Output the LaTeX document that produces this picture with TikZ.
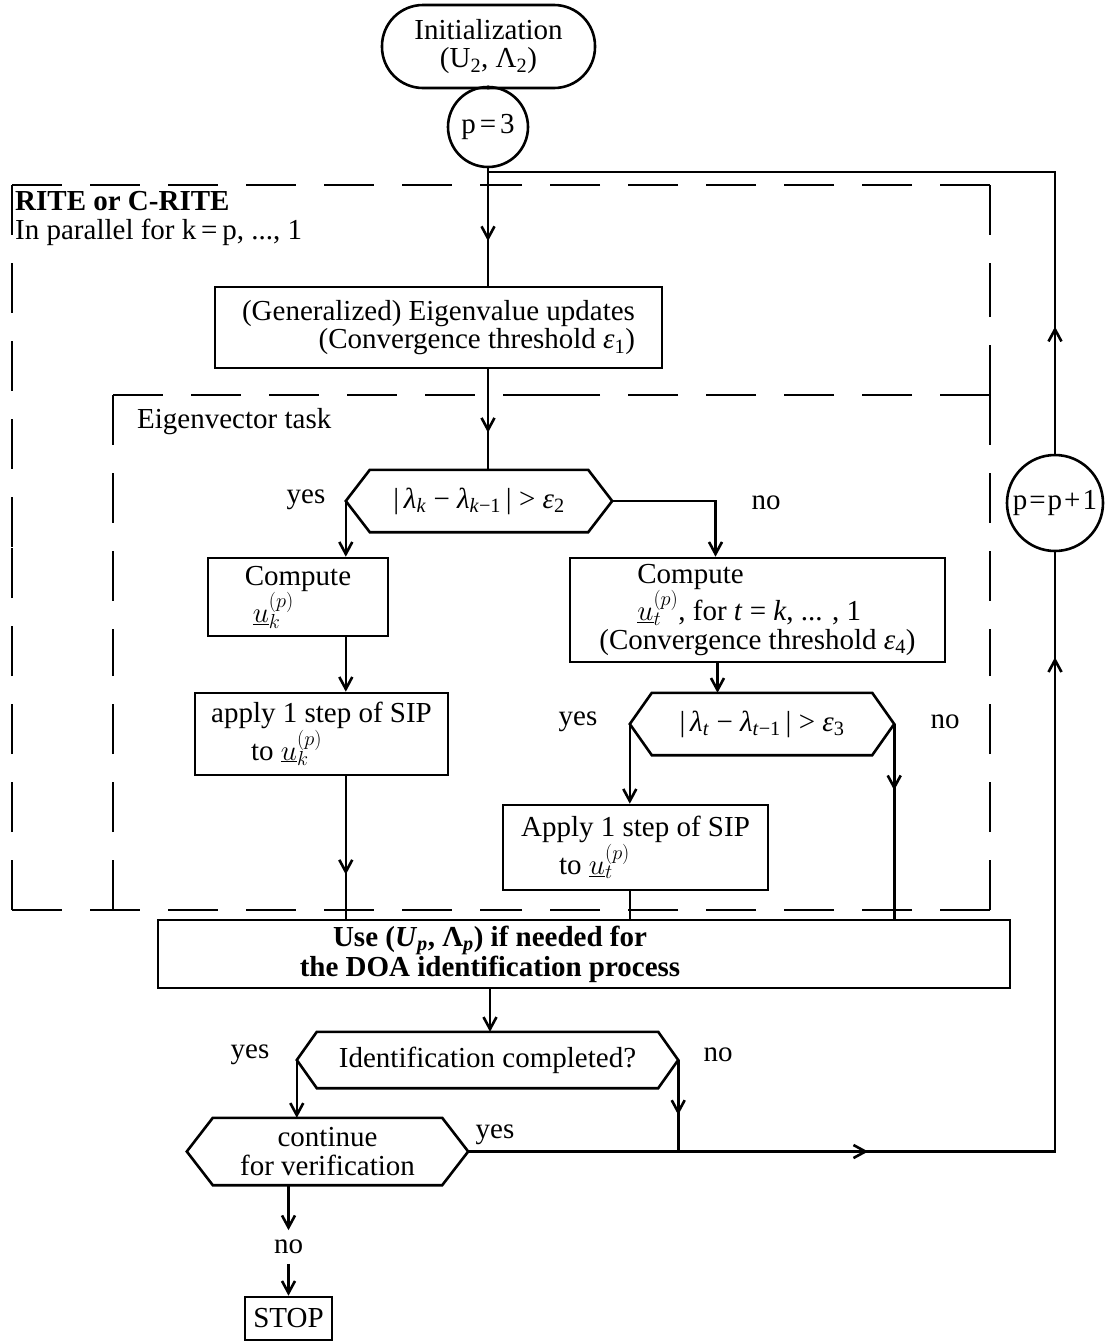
\RequirePackage{fix-cm}
\documentclass[tikz,border=0pt]{standalone}
\usepackage{fontspec}
\setmainfont{Liberation Serif}
\usetikzlibrary{arrows.meta,decorations.markings,calc}

\newcommand\sbs[1]{\textsubscript{#1}}
\newcommand\uvec[1]{$\underline{u}_{#1}^{(p)}$}

% hexagonal decision frame drawn around a text node, with named tips
\newcommand\hexframe[2]{%
  \draw[ln] (#1.north west) -- (#1.north east) -- ([xshift=#2]#1.east)
    -- (#1.south east) -- (#1.south west) -- ([xshift=-#2]#1.west) -- cycle;
  \coordinate (#1-l) at ([xshift=-#2]#1.west);
  \coordinate (#1-r) at ([xshift=#2]#1.east);}

% dashed side that starts with a dash at both of its ends
\newcommand\dline[2]{%
  \draw[dashside] (#1) -- ($(#1)!0.5!(#2)$);
  \draw[dashside] (#2) -- ($(#1)!0.5!(#2)$);}

\tikzset{
  ln/.style={line width=2.6pt},
  box/.style={draw, line width=2.6pt, inner sep=0pt},
  hexbox/.style={inner sep=0pt},
  arr/.style={-{Straight Barb[length=12pt,width=13pt]}},
  midarr/.style={postaction={decorate}, decoration={markings,
      mark=at position #1 with {\arrow{Straight Barb[length=12pt,width=13pt]}}}},
  dashside/.style={line width=2.6pt, dash pattern=on 50pt off 28pt},
}

\begin{document}
\fontsize{29}{28.5}\selectfont
\begin{tikzpicture}[x=1pt, y=-1pt]
\useasboundingbox (0,0) rectangle (1107,1344);

% ---- dashed task frames
\coordinate (oTL) at (12,185);  \coordinate (oTR) at (990,185);
\coordinate (oBL) at (12,910);  \coordinate (oBR) at (990,910);
\coordinate (iTL) at (113,395); \coordinate (iTR) at (990,395);
\coordinate (iBL) at (113,910);
\dline{oTL}{oTR}
\dline{oTR}{iTR}
\dline{iTR}{oBR}
\dline{oBL}{oBR}
\dline{oTL}{oBL}
\dline{iTL}{iTR}
\dline{iTL}{iBL}

\node[anchor=base west, inner sep=0pt, font=\bfseries] (rite) at (15,210) {RITE or C-RITE};
\node[anchor=base west, inner sep=0pt] (par) at (15,239) {In parallel for k\,=\,p, ..., 1};
\node[anchor=base west, inner sep=0pt] (evtask) at (137,428) {Eigenvector task};

% ---- blocks
\node[box, rounded corners=41pt, minimum width=213pt, minimum height=83pt, align=center]
  (init) at (488.5,46.5) {Initialization\\(U\sbs{2}, Λ\sbs{2})};
\node[box, circle, minimum size=80pt] (p3) at (488,127) {p\kern4pt=\kern4pt3};

\node[box, minimum width=447pt, minimum height=81pt, align=right] (eig) at (438.5,327.5)
  {(Generalized) Eigenvalue updates\\(Convergence threshold \textit{ε}\sbs{1})};

\node[hexbox, minimum width=218pt, minimum height=62pt] (h1) at (479,501)
  {|\,\textit{λ}\sbs{\textit{k}} − \textit{λ}\sbs{\textit{k}−1}\,| > \textit{ε}\sbs{2}};
\hexframe{h1}{24pt}

\node[box, minimum width=180pt, minimum height=78pt, align=left] (c1) at (298,597)
  {Compute\\\hspace*{8pt}\uvec{k}};
\node[box, minimum width=253pt, minimum height=82pt, align=left] (a1) at (321.5,734)
  {apply 1 step of SIP\\\hspace*{40pt}to \uvec{k}};

\node[box, minimum width=375pt, minimum height=104pt, align=left] (c2) at (757.5,610)
  {\hspace*{38pt}Compute\\\hspace*{38pt}\uvec{t}, for \textit{t} = \textit{k}, ... , 1\\(Convergence threshold \textit{ε}\sbs{4})};

\node[hexbox, minimum width=220pt, minimum height=62pt] (h2) at (762,724)
  {|\,\textit{λ}\sbs{\textit{t}} − \textit{λ}\sbs{\textit{t}−1}\,| > \textit{ε}\sbs{3}};
\hexframe{h2}{22pt}

\node[box, minimum width=265pt, minimum height=85pt, align=left] (a2) at (635.5,847.5)
  {Apply 1 step of SIP\\\hspace*{38pt}to \uvec{t}};

\node[box, minimum width=852pt, minimum height=68pt] (use) at (584,954) {};
\node[align=center, inner sep=0pt, font=\bfseries] (usetext) at (490,954)
  {Use (\textit{U}\sbs{\textit{p}}, Λ\sbs{\textit{p}}) if needed for\\the DOA identification process};

\node[hexbox, minimum width=341pt, minimum height=56pt] (h3) at (487.5,1060)
  {Identification completed?};
\hexframe{h3}{20pt}

\node[hexbox, minimum width=229pt, minimum height=67pt, align=center] (cont) at (327.5,1151.5)
  {continue\\for verification};
\hexframe{cont}{26pt}

\node (no5) at (288.5,1247) {no};
\node[box, minimum width=87pt, minimum height=43pt] (stop) at (288.5,1318.5) {STOP};

\node[box, circle, minimum size=96pt] (ppl) at (1055,503) {p\kern2pt=\kern2pt p\kern2pt+\kern2pt1};

% ---- branch labels
\node (yes1) at (306,500) {yes};
\node (no1) at (766,503) {no};
\node (yes2) at (578,722) {yes};
\node (no2) at (945,722) {no};
\node (yes3) at (250,1055) {yes};
\node (no3) at (718,1055) {no};
\node (yes4) at (495,1135) {yes};

% ---- connectors
\coordinate (jn) at (488,172);
\coordinate (fbtop) at (ppl |- jn);
\coordinate (fbbot) at (ppl |- cont-r);

\draw[ln] (init.south) -- (p3.north);
\draw[ln, midarr=0.62] (p3.south) -- (p3.south |- eig.north);
\draw[ln, midarr=0.63] (p3 |- eig.south) -- (p3 |- h1.north);

\draw[ln, arr] (h1-l) -- (h1-l |- c1.north);
\draw[ln, arr] (h1-r) -| ([xshift=-42pt]c2.north);
\draw[ln, arr] (h1-l |- c1.south) -- (h1-l |- a1.north);
\draw[ln, midarr=0.69] (h1-l |- a1.south) -- (h1-l |- use.north);

\draw[ln, arr] ([xshift=-40pt]c2.south) -- ([xshift=-40pt]c2.south |- h2.north);
\draw[ln, arr] (h2-l) -- (h2-l |- a2.north);
\draw[ln, midarr=0.34] (h2-r) -- (h2-r |- use.north);
\draw[ln] (h2-l |- a2.south) -- (h2-l |- use.north);

\draw[ln, arr] (usetext |- use.south) -- (usetext |- h3.north);
\draw[ln, arr] (h3-l) -- (h3-l |- cont.north);
\draw[ln, midarr=0.6] (h3-r) -- (h3-r |- cont-r);

\draw[ln, postaction={decorate}, decoration={markings,
    mark=at position 400pt with {\arrow{Straight Barb[length=12pt,width=13pt]}},
    mark=at position 1081pt with {\arrow{Straight Barb[length=12pt,width=13pt]}}}]
  (cont-r) -- (fbbot) -- (ppl.south);
\draw[ln, midarr=127pt] (ppl.north) -- (fbtop) -- (jn);

\draw[ln, arr] (cont.south -| no5) -- (no5.north);
\draw[ln, arr] (no5.south) -- (stop.north);
\end{tikzpicture}
\end{document}
